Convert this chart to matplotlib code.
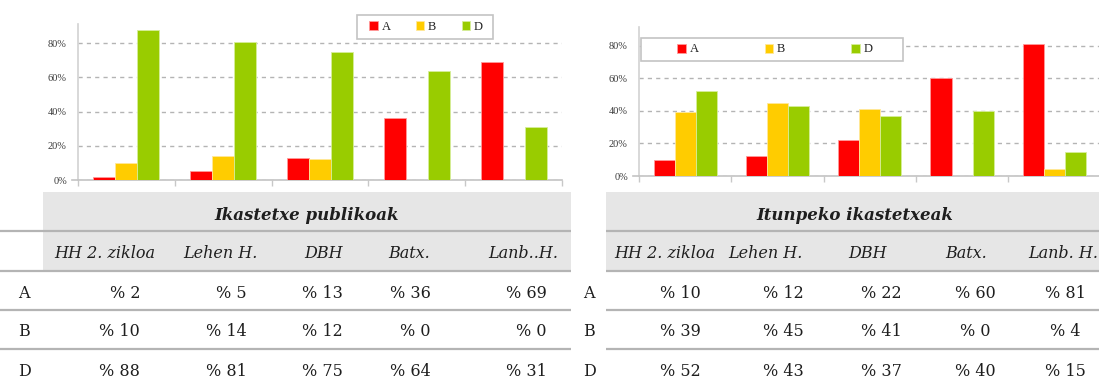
import matplotlib
matplotlib.use("Agg")
import matplotlib.pyplot as plt
from matplotlib.patches import Rectangle
from matplotlib.lines import Line2D
from matplotlib.ticker import FuncFormatter

# ---- data -------------------------------------------------------------
levels_pub = ["HH 2. zikloa", "Lehen H.", "DBH", "Batx.", "Lanb..H."]
levels_itu = ["HH 2. zikloa", "Lehen H.", "DBH", "Batx.", "Lanb. H."]
models = ["A", "B", "D"]

pub_A = [2, 5, 13, 36, 69]
pub_B = [10, 14, 12, 0, 0]
pub_D = [88, 81, 75, 64, 31]

itu_A = [10, 12, 22, 60, 81]
itu_B = [39, 45, 41, 0, 4]
itu_D = [52, 43, 37, 40, 15]

title_pub = "Ikastetxe publikoak"
title_itu = "Itunpeko ikastetxeak"

colors = ["#ff0000", "#ffcc00", "#99cc00"]
edge_colors = ["#ff9a9a", "#ffe89a", "#d6ee9a"]

W, H = 1099, 385
fig = plt.figure(figsize=(W / 100, H / 100), dpi=100)

chart_font = "Liberation Serif"
table_font = "DejaVu Serif"
text_col = "#1e1e1e"


def px_axes(x0, x1, ytop, ybot):
    return fig.add_axes([x0 / W, (H - ybot) / H, (x1 - x0) / W, (ybot - ytop) / H])


def draw_chart(ax, series, width, ymax, legend_box, legend_inner):
    n = len(series[0])
    xs = list(range(n))
    handles = []
    for k, vals in enumerate(series):
        off = (k - 1) * width
        b = ax.bar([x + off for x in xs], vals, width=width, color=colors[k],
                   edgecolor=edge_colors[k], linewidth=0.6, zorder=3)
        handles.append(b)
    ax.set_xlim(-0.5, n - 0.5)
    ax.set_ylim(0, ymax)
    ax.set_yticks([0, 20, 40, 60, 80])
    ax.yaxis.set_major_formatter(FuncFormatter(lambda v, p: f"{v:.0f}%"))
    ax.tick_params(axis="y", length=0, pad=8, labelsize=7.5, labelcolor="#3a3a3a")
    for lab in ax.get_yticklabels():
        lab.set_family(chart_font)
    ax.set_xticks([])
    ax.set_xticks([x - 0.5 for x in range(n + 1)], minor=True)
    ax.tick_params(axis="x", which="minor", length=4, width=1.0, color="#c8c8c8",
                   direction="out")
    ax.yaxis.grid(True, linestyle=(0, (3, 3)), color="#b4b4b4", linewidth=1.0, zorder=0)
    ax.set_axisbelow(True)
    for s in ("top", "right"):
        ax.spines[s].set_visible(False)
    ax.spines["left"].set_color("#d2d2d2")
    ax.spines["left"].set_linewidth(1.2)
    ax.spines["bottom"].set_color("#c4c4c4")
    ax.spines["bottom"].set_linewidth(1.2)
    # short stub of the baseline to the left of the value axis
    wpx = ax.get_position().width * W
    ax.add_line(Line2D([-6 / wpx, 0], [0, 0], transform=ax.transAxes, color="#c4c4c4",
                       linewidth=1.2, clip_on=False))

    # legend frame and entries
    bx0, bx1, by0, by1 = legend_box
    fig.patches.append(Rectangle((bx0 / W, (H - by1) / H), (bx1 - bx0) / W, (by1 - by0) / H,
                                 transform=fig.transFigure, facecolor="white",
                                 edgecolor="#c4c4c4", linewidth=1.2, zorder=5))
    ix0, ix1 = legend_inner
    leg = fig.legend(handles, models, ncol=3, mode="expand", loc="center left",
                     bbox_to_anchor=(ix0 / W, (H - by1) / H, (ix1 - ix0) / W, (by1 - by0) / H),
                     frameon=False, borderpad=0, borderaxespad=0, handlelength=0.7,
                     handleheight=0.7, handletextpad=0.3,
                     prop={"family": chart_font, "size": 9})
    leg.set_zorder(6)
    for t in leg.get_texts():
        t.set_color("#222222")


ax1 = px_axes(78, 562, 24, 180)
draw_chart(ax1, [pub_A, pub_B, pub_D], 0.227, 91.3, (357, 493, 15, 39), (369, 483))

ax2 = px_axes(639, 1100.5, 27, 176)
draw_chart(ax2, [itu_A, itu_B, itu_D], 0.228, 91.5, (641, 903, 38, 61), (677, 873))

# ---- tables -----------------------------------------------------------
tab = fig.add_axes([0, 0, 1, 1], zorder=-1)
tab.set_xlim(0, W)
tab.set_ylim(H, 0)
tab.axis("off")

band_top, band_bot = 192, 271
rule_ys = [231, 271, 310, 349]
title_y, head_y = 215, 253
row_ys = [293, 332, 372]
grey = "#e6e6e6"
rule_col = "#b4b4b4"


def draw_table(x0, x1, label_x, title, title_x, heads, head_xs, rows, val_xs, val_ha):
    tab.add_patch(Rectangle((x0, band_top), x1 - x0, band_bot - band_top,
                            facecolor=grey, edgecolor="none"))
    for y in rule_ys:
        tab.plot([label_x[1], x1], [y, y], color=rule_col, linewidth=1.6,
                 solid_capstyle="butt")
    tab.text(title_x, title_y, title, ha="center", va="center", family=table_font,
             style="italic", weight="bold", fontsize=12, color=text_col)
    for h, hx in zip(heads, head_xs):
        tab.text(hx, head_y, h, ha="center", va="center", family=table_font,
                 style="italic", fontsize=11.5, color=text_col)
    for name, vals, ry in zip(models, rows, row_ys):
        tab.text(label_x[0], ry, name, ha="left", va="center", family=table_font,
                 fontsize=11.5, color=text_col)
        for v, vx in zip(vals, val_xs):
            tab.text(vx, ry, f"% {v}", ha=val_ha, va="center", family=table_font,
                     fontsize=11.5, color=text_col)


draw_table(43, 571, (18, 0), title_pub, 307, levels_pub,
           [105, 220, 324, 409, 523], [pub_A, pub_B, pub_D],
           [140, 247, 343, 431, 547], "right")
draw_table(606, 1105, (583, 606), title_itu, 855, levels_itu,
           [665, 765, 868, 966, 1063], [itu_A, itu_B, itu_D],
           [680, 783, 881, 975, 1065], "center")

fig.savefig("out.png", dpi=100)
